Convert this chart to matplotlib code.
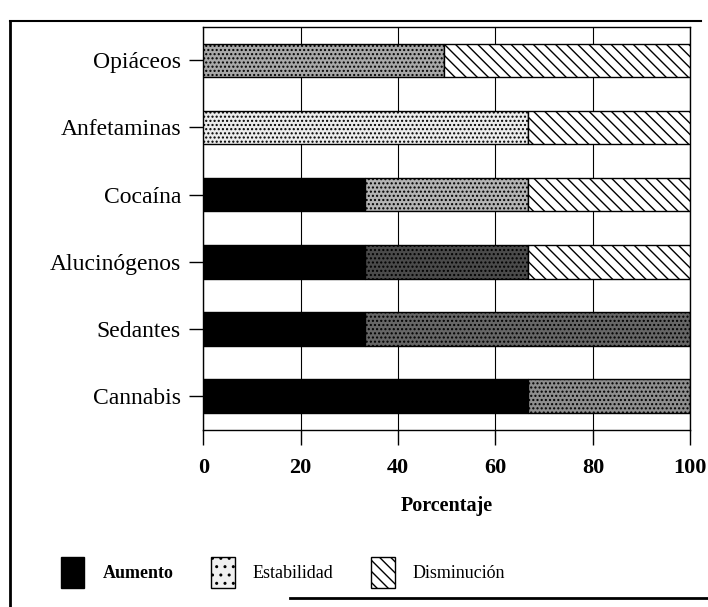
import matplotlib.pyplot as plt
from matplotlib.patches import Patch
from matplotlib.lines import Line2D

# Datos: porcentaje por sustancia
sustancias = ['Opiáceos', 'Anfetaminas', 'Cocaína', 'Alucinógenos', 'Sedantes', 'Cannabis']
aumento = [0, 0, 33.3, 33.3, 33.3, 66.7]
estabilidad = [49.5, 66.7, 33.3, 33.3, 66.7, 33.3]
disminucion = [50.5, 33.3, 33.4, 33.4, 0, 0]

# tonos del punteado de "Estabilidad" (el escaneo da densidades distintas)
grises = ['#a8a8a8', '#ececec', '#b4b4b4', '#4a4a4a', '#666666', '#8e8e8e']

plt.rcParams['font.family'] = ['Liberation Serif', 'DejaVu Serif']
plt.rcParams['hatch.linewidth'] = 1.0

fig = plt.figure(figsize=(7.08, 6.07), dpi=100)
ax = fig.add_axes([0.287, 0.292, 0.688, 0.664])

y = list(range(len(sustancias)))
left3 = [a + e for a, e in zip(aumento, estabilidad)]

ax.barh(y, aumento, height=0.5, color='black', edgecolor='black', linewidth=1, zorder=3)
for i in y:
    ax.barh(i, estabilidad[i], left=aumento[i], height=0.5, color=grises[i],
            edgecolor='black', linewidth=1, hatch='....', zorder=3)
ax.barh(y, disminucion, left=left3, height=0.5, color='white', edgecolor='black',
        linewidth=1, hatch='\\\\\\', zorder=3)

ax.set_xlim(0, 100)
ax.set_ylim(len(sustancias) - 0.5, -0.5)
ax.set_yticks(y)
ax.set_yticklabels(sustancias, fontsize=17)
ax.set_xticks([0, 20, 40, 60, 80, 100])
ax.set_xticklabels(['0', '20', '40', '60', '80', '100'], fontsize=16, fontweight='bold')
ax.tick_params(axis='y', length=10, width=1, pad=6)
ax.tick_params(axis='x', length=11, width=1, pad=9)
ax.set_xlabel('Porcentaje', fontsize=14.5, fontweight='bold', labelpad=13)
ax.grid(True, axis='x', color='black', linewidth=0.8, zorder=0)
for s in ax.spines.values():
    s.set_linewidth(1)

# marco exterior del escaneo
fig.add_artist(Line2D([0.014, 0.014], [0, 0.965], color='black', linewidth=2))
fig.add_artist(Line2D([0.014, 0.99], [0.965, 0.965], color='black', linewidth=1.5))
fig.add_artist(Line2D([0.41, 1.0], [0.015, 0.015], color='black', linewidth=2))

handles = [
    Patch(facecolor='black', edgecolor='black', label='Aumento'),
    Patch(facecolor='#f0f0f0', edgecolor='black', hatch='..', label='Estabilidad'),
    Patch(facecolor='white', edgecolor='black', hatch='\\\\\\', label='Disminución'),
]
leg = fig.legend(handles=handles, loc='center', bbox_to_anchor=(0.40, 0.057), ncol=3,
                 frameon=False, fontsize=13, handlelength=1.3, handleheight=2.2,
                 handletextpad=1.0, columnspacing=2.1)
leg.get_texts()[0].set_fontweight('bold')

fig.savefig('out.png', dpi=100)
